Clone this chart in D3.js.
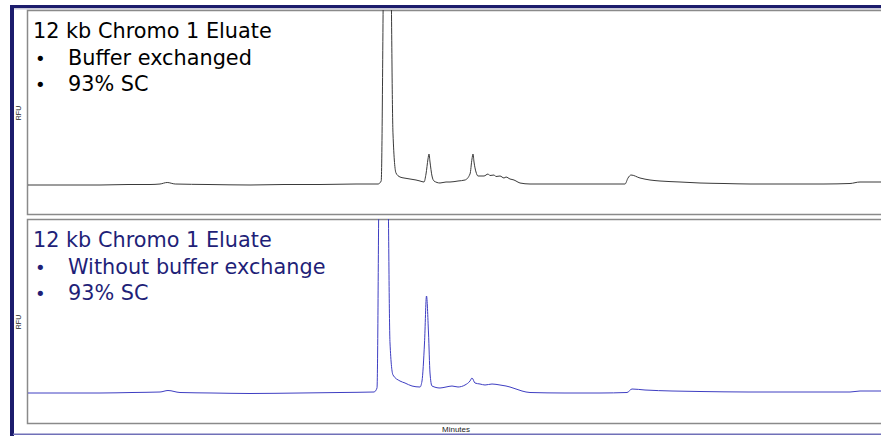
<!DOCTYPE html>
<html>
<head>
<meta charset="utf-8">
<script src="https://cdn.jsdelivr.net/npm/d3@7"></script>
<style>
  body { margin: 0; background: #fff; overflow: hidden; }
  svg { display: block; }
</style>
</head>
<body>
<div class="content"></div>
<script>
var size = {width: 881, height: 436};

// panels: plot frames inside the navy window border
var panels = [
    {top: 10, bottom: 214},
    {top: 219, bottom: 423}
];
var plotLeft = 28, plotRight = 881;

// top trace: buffer exchanged (minutes, RFU)
var timeTop = [0, 1.8, 2.5, 3.05, 3.3, 3.48, 3.68, 4.5, 5.55, 6.4, 7.3, 8.2, 8.75, 8.83, 8.8875, 8.975, 9.075, 9.125, 9.2, 9.3, 9.4, 9.55, 9.7, 9.8, 9.9,
    9.95, 10.0, 10.025, 10.05, 10.1, 10.15, 10.3, 10.45, 10.55, 10.75, 10.925, 11.05, 11.1, 11.125, 11.15, 11.2, 11.25, 11.4, 11.5, 11.55, 11.65, 11.7, 11.8, 11.9, 11.95, 12.05, 12.15, 12.2, 12.3,
    12.55, 13.2, 13.8, 14.4, 14.925, 15.0, 15.075, 15.3, 15.55, 15.8, 16.3, 16.8, 17.4, 18.05, 18.7, 19.3, 19.9, 20.55, 20.8, 21.325];
var rfuTop = [29, 29, 29.5, 29.5, 30, 31.5, 30, 29.5, 29, 29.5, 29.5, 30, 30, 33, 250, 700, 250, 80, 41, 37, 36, 35, 34, 33, 32,
    40, 55, 60, 52, 38, 33, 31, 32, 32, 33, 34, 40, 55, 60, 52, 42, 38, 38, 40, 38.5, 39, 37.5, 38, 36, 37, 35, 34, 33, 31,
    30, 30, 30, 30, 30, 36, 39, 36, 34, 33, 32, 31, 30.5, 30, 30, 30, 30, 30.5, 32, 32];

// bottom trace: without buffer exchange
var timeBottom = [0, 1.8, 2.6, 3.3, 3.5, 3.8, 4.6, 5.55, 6.8, 7.8, 8.65, 8.725, 8.775, 8.875, 9.0, 9.05, 9.125, 9.3, 9.425, 9.6, 9.8,
    9.85, 9.9125, 9.9625, 10.0125, 10.05, 10.1, 10.3, 10.45, 10.6, 10.75, 10.925, 11.05, 11.1, 11.175, 11.3, 11.425, 11.6, 11.8, 11.95, 12.05, 12.2, 12.35,
    12.55, 13.4, 14.3, 14.975, 15.1, 15.425, 16.1, 16.8, 18.0, 19.3, 20.55, 20.8, 21.325];
var rfuBottom = [30, 30, 30.5, 31, 32.5, 30.5, 30, 29.5, 30, 30.5, 31, 35, 250, 700, 250, 80, 48, 42, 40, 37, 36,
    42, 80, 127, 90, 50, 37, 35, 36, 37, 36, 38, 42, 45, 40, 39, 38, 39, 38, 37, 36, 34, 32,
    30.5, 30, 30, 30.5, 34, 33, 32, 31.5, 31, 31, 31, 32, 32];

var labels = [
    {title: "12 kb Chromo 1 Eluate", bullets: ["Buffer exchanged", "93% SC"], color: "#000"},
    {title: "12 kb Chromo 1 Eluate", bullets: ["Without buffer exchange", "93% SC"], color: "#1f1f78"}
];
var traceColors = ["#3a3a3a", "#3e3ec2"];
var traces = [[timeTop, rfuTop], [timeBottom, rfuBottom]];

var chart = d3.select('.content')
    .append('svg')
    .attr('width', size.width)
    .attr('height', size.height);

// window border
chart.append('rect').attr('x', 10).attr('y', 5).attr('width', 880).attr('height', 3).attr('fill', '#1c1c6c');
chart.append('rect').attr('x', 13).attr('y', 8).attr('width', 880).attr('height', 1.5).attr('fill', '#c8c8d8');
chart.append('rect').attr('x', 10).attr('y', 5).attr('width', 4).attr('height', 431).attr('fill', '#1c1c6c');
chart.append('rect').attr('x', 13).attr('y', 433.5).attr('width', 870).attr('height', 1.5).attr('fill', '#7070b8');

var xScale = d3.scaleLinear()
    .domain([0, 21.325])
    .range([plotLeft, plotRight]);

panels.forEach(function(p, i) {
    var yScale = d3.scaleLinear()
        .domain([0, 204])
        .range([p.bottom, p.top]);

    chart.append('defs').append('clipPath')
        .attr('id', 'clip' + i)
        .append('rect')
        .attr('x', plotLeft)
        .attr('y', p.top)
        .attr('width', plotRight - plotLeft)
        .attr('height', p.bottom - p.top);

    // frame: open on the right, it runs off the window
    chart.append('path')
        .attr('d', 'M' + (size.width + 20) + ',' + (p.top + 0.5) + 'H' + (plotLeft - 0.5) +
            'V' + (p.bottom + 0.5) + 'H' + (size.width + 20))
        .attr('fill', 'none')
        .attr('stroke', '#8a8a8a')
        .attr('stroke-width', 1.5);

    var pts = d3.zip(traces[i][0], traces[i][1]);
    var line = d3.line()
        .curve(d3.curveMonotoneX)
        .x(function(d) { return xScale(d[0]); })
        .y(function(d) { return yScale(d[1]); });

    chart.append('g')
        .attr('clip-path', 'url(#clip' + i + ')')
        .append('path')
        .datum(pts)
        .attr('d', line)
        .attr('fill', 'none')
        .attr('stroke', traceColors[i])
        .attr('stroke-width', 1);

    // y axis title
    chart.append('text')
        .attr('transform', 'translate(21,' + (p.top + 103) + ') rotate(-90)')
        .attr('text-anchor', 'middle')
        .attr('font-family', 'Liberation Sans, Arial, sans-serif')
        .attr('font-size', 7)
        .attr('fill', '#222')
        .text('RFU');

    // annotation block
    var lab = labels[i];
    var g = chart.append('g')
        .attr('font-family', 'DejaVu Sans, sans-serif')
        .attr('font-size', 20.8)
        .attr('fill', lab.color);
    g.append('text').attr('x', 33).attr('y', p.top + 28).text(lab.title);
    lab.bullets.forEach(function(b, j) {
        var y = p.top + 28 + 26.5 * (j + 1);
        g.append('text').attr('x', 35).attr('y', y).attr('font-size', 18).text('\u2022');
        g.append('text').attr('x', 68).attr('y', y).text(b);
    });
});

chart.append('text')
    .attr('x', 456)
    .attr('y', 432)
    .attr('text-anchor', 'middle')
    .attr('font-family', 'Liberation Sans, Arial, sans-serif')
    .attr('font-size', 8)
    .attr('fill', '#222')
    .text('Minutes');
</script>
</body>
</html>
